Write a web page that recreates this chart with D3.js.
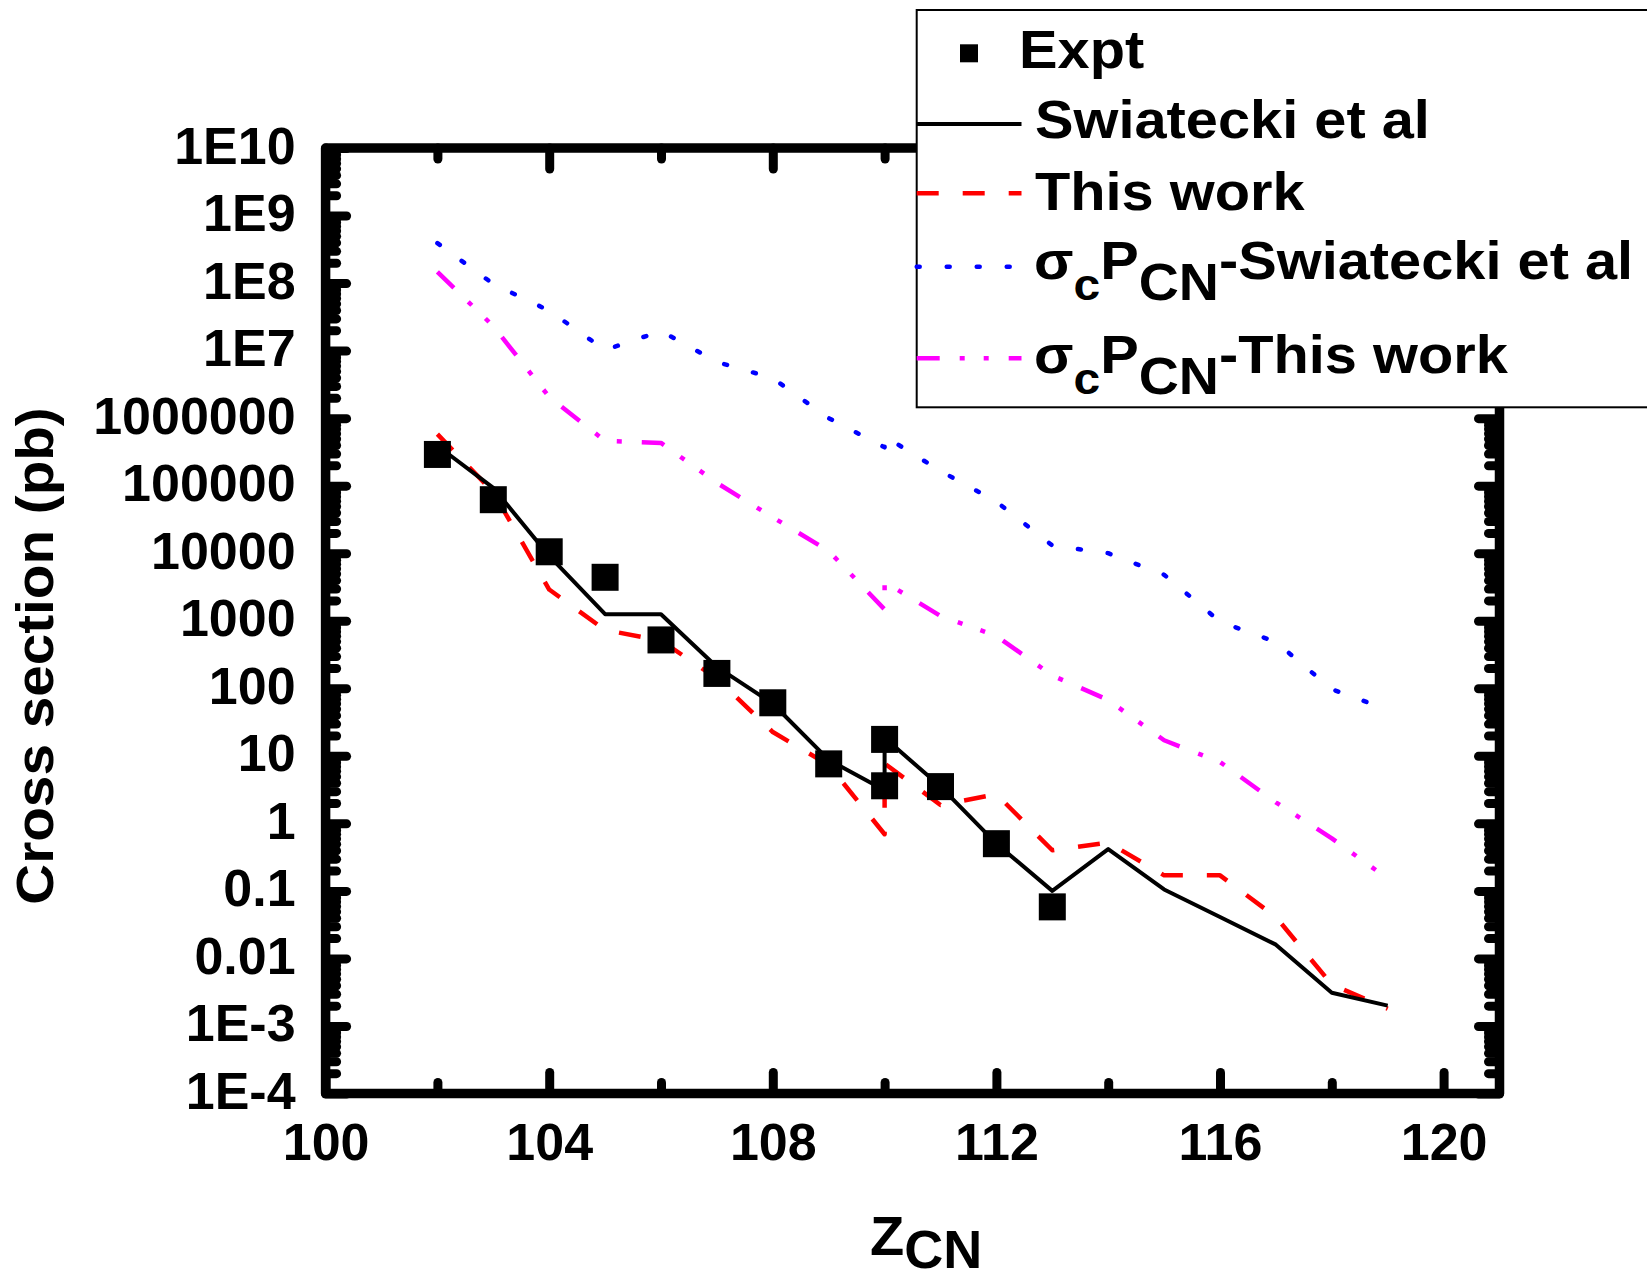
<!DOCTYPE html>
<html>
<head>
<meta charset="utf-8">
<script src="https://cdn.jsdelivr.net/npm/d3@7"></script>
<style>
  body { margin: 0; background: #fff; }
  svg { display: block; font-family: "Liberation Sans", Arial, sans-serif; font-weight: bold; }
</style>
</head>
<body>
<div id="chart"></div>
<script>
// Values (cross section in pb vs Z of compound nucleus)
const zExpt = [102, 103, 104, 105, 106, 107, 108, 109, 110, 110, 111, 112, 113];
const sigExpt = [2.9e5, 6.2e4, 1.05e4, 4.4e3, 520, 166, 61, 7.6, 17.5, 3.6, 3.5, 0.5, 0.058];

// model curves: two entries at Z=110 (two reactions)
const zCalc = [102, 103, 104, 105, 106, 107, 108, 109, 110, 110, 111, 112, 113, 114, 115, 116, 117, 118, 119];
const sigSwiatecki = [3.9e5, 9.3e4, 9.1e3, 1.25e3, 1.25e3, 207, 59, 8.7, 3.1, 18.5, 3.5, 0.5, 0.1, 0.415, 0.105, 0.041, 0.016, 0.0031, 0.002];
const sigThisWork = [5.8e5, 8.0e4, 2.9e3, 730, 510, 139, 22.5, 7.3, 0.69, 7.7, 1.87, 2.7, 0.4, 0.52, 0.17, 0.17, 0.041, 0.0041, 0.0018];
const capSwiatecki = [3.9e8, 9.7e7, 3.9e7, 1.02e7, 1.95e7, 6.8e6, 3.9e6, 1.0e6, 3.7e5, 5.4e5, 1.65e5, 5.8e4, 1.3e4, 1.0e4, 4.8e3, 970, 485, 97, 48];
const capThisWork = [1.47e8, 2.3e7, 2.06e6, 4.6e5, 4.3e5, 1.1e5, 3.4e4, 1.08e4, 1.47e3, 3.75e3, 1.18e3, 595, 155, 67, 17, 8.1, 2.04, 0.6, 0.152];

const xTickValues = [100, 104, 108, 112, 116, 120];
const xMinorValues = [102, 106, 110, 114, 118];
const yTickValues = [1e10, 1e9, 1e8, 1e7, 1e6, 1e5, 1e4, 1e3, 100, 10, 1, 0.1, 0.01, 1e-3, 1e-4];
const yTickLabels = ['1E10', '1E9', '1E8', '1E7', '1000000', '100000', '10000', '1000', '100', '10', '1', '0.1', '0.01', '1E-3', '1E-4'];

const width = 1647, height = 1280;

const svg = d3.select('#chart').append('svg')
  .attr('width', width)
  .attr('height', height);

const x = d3.scaleLinear().domain([100, 121]).range([325.6, 1499.5]);
const y = d3.scaleLog().domain([1e-4, 1e10]).range([1093.5, 148]);

const xLeft = x(100), xRight = x(121), yTop = y(1e10), yBottom = y(1e-4);

// minor ticks on the log axis: 2..9 in every decade
const yMinorValues = [];
for (let e = -4; e < 10; e++) {
  for (let k = 2; k <= 9; k++) yMinorValues.push(k * Math.pow(10, e));
}

function styleTicks(g) {
  g.select('.domain').remove();
  g.selectAll('.tick line')
    .attr('stroke', '#000')
    .attr('stroke-width', 9)
    .attr('stroke-linecap', 'round');
}

const MAJ = 21, MIN = 11;

// bottom axis
svg.append('g').attr('transform', `translate(0,${yBottom})`)
  .call(d3.axisBottom(x).tickValues(xMinorValues).tickSize(-MIN).tickFormat('')).call(styleTicks);
const gBottomMaj = svg.append('g').attr('transform', `translate(0,${yBottom})`);
gBottomMaj.call(d3.axisBottom(x).tickValues(xTickValues).tickSize(-MAJ).tickFormat(d3.format('d'))).call(styleTicks);
gBottomMaj.selectAll('.tick text')
  .attr('y', 66.5).attr('dy', 0)
  .attr('fill', '#000')
  .style('font-size', '52px');

// top axis
svg.append('g').attr('transform', `translate(0,${yTop})`)
  .call(d3.axisTop(x).tickValues(xMinorValues).tickSize(-MIN).tickFormat('')).call(styleTicks);
svg.append('g').attr('transform', `translate(0,${yTop})`)
  .call(d3.axisTop(x).tickValues(xTickValues).tickSize(-MAJ).tickFormat('')).call(styleTicks);

// left axis
svg.append('g').attr('transform', `translate(${xLeft},0)`)
  .call(d3.axisLeft(y).tickValues(yMinorValues).tickSize(-MIN).tickFormat('')).call(styleTicks);
const gLeft = svg.append('g').attr('transform', `translate(${xLeft},0)`);
gLeft.call(d3.axisLeft(y).tickValues(yTickValues).tickSize(-MAJ).tickFormat((d, i) => yTickLabels[i])).call(styleTicks);
gLeft.selectAll('.tick text')
  .attr('x', -30).attr('dy', 15)
  .attr('fill', '#000')
  .attr('text-anchor', 'end')
  .style('font-size', '52px');

// right axis
svg.append('g').attr('transform', `translate(${xRight},0)`)
  .call(d3.axisRight(y).tickValues(yMinorValues).tickSize(-MIN).tickFormat('')).call(styleTicks);
svg.append('g').attr('transform', `translate(${xRight},0)`)
  .call(d3.axisRight(y).tickValues(yTickValues).tickSize(-MAJ).tickFormat('')).call(styleTicks);

// frame
svg.append('rect')
  .attr('x', xLeft).attr('y', yTop)
  .attr('width', xRight - xLeft).attr('height', yBottom - yTop)
  .attr('fill', 'none')
  .attr('stroke', '#000')
  .attr('stroke-width', 9.5)
  .attr('stroke-linejoin', 'round');

// curves
const line = d3.line().x(d => x(d[0])).y(d => y(d[1]));
const series = [
  { vals: capSwiatecki, color: '#0000ff', w: 4.5, dash: '3,27', cap: 'round' },
  { vals: capThisWork, color: '#ff00ff', w: 4.5, dash: '23,20,5,19,5,20', cap: 'butt' },
  { vals: sigThisWork, color: '#ff0000', w: 4.5, dash: '22,24', cap: 'butt' },
  { vals: sigSwiatecki, color: '#000000', w: 4, dash: null, cap: 'butt' }
];
series.forEach(s => {
  svg.append('path')
    .datum(zCalc.map((z, i) => [z, s.vals[i]]))
    .attr('d', line)
    .attr('fill', 'none')
    .attr('stroke', s.color)
    .attr('stroke-width', s.w)
    .attr('stroke-dasharray', s.dash)
    .attr('stroke-linecap', s.cap)
    .attr('stroke-linejoin', 'round');
});

// experimental points
const sq = 27;
svg.append('g')
  .selectAll('rect')
  .data(zExpt.map((z, i) => [z, sigExpt[i]]))
  .join('rect')
  .attr('x', d => x(d[0]) - sq / 2)
  .attr('y', d => y(d[1]) - sq / 2)
  .attr('width', sq)
  .attr('height', sq)
  .attr('fill', '#000');

// axis titles
svg.append('text')
  .attr('transform', 'translate(53,656) rotate(-90) scale(1.09,1)')
  .attr('text-anchor', 'middle')
  .style('font-size', '52px')
  .text('Cross section (pb)');

const xt = svg.append('text')
  .attr('x', 870).attr('y', 1255)
  .style('font-size', '56px');
xt.append('tspan').text('Z');
xt.append('tspan').attr('dy', 13).style('font-size', '54px').text('CN');

// legend
const lg = svg.append('g');
lg.append('rect')
  .attr('x', 916.7).attr('y', 10)
  .attr('width', 760).attr('height', 397.3)
  .attr('fill', '#fff')
  .attr('stroke', '#000')
  .attr('stroke-width', 2);

lg.append('rect')
  .attr('x', 969 - 9).attr('y', 53.3 - 9)
  .attr('width', 18).attr('height', 18)
  .attr('fill', '#000');

const sampleX0 = 916.7, sampleX1 = 1021.5;
const legendLines = [
  { y: 124, s: series[3] },
  { y: 193.3, s: series[2] },
  { y: 266.7, s: series[0] },
  { y: 358.3, s: series[1] }
];
legendLines.forEach(l => {
  lg.append('line')
    .attr('x1', sampleX0).attr('x2', sampleX1)
    .attr('y1', l.y).attr('y2', l.y)
    .attr('stroke', l.s.color)
    .attr('stroke-width', l.s.w)
    .attr('stroke-dasharray', l.s.dash)
    .attr('stroke-linecap', l.s.cap);
});

function legendText(tx, ty, parts) {
  const t = lg.append('text')
    .attr('transform', `translate(${tx},${ty}) scale(1.09,1)`)
    .style('font-size', '53px');
  let shift = 0;
  parts.forEach(p => {
    const sp = t.append('tspan').text(p.t);
    const want = p.sub ? 21 : 0;
    if (want !== shift) { sp.attr('dy', want - shift); shift = want; }
    if (p.size) sp.style('font-size', p.size + 'px');
  });
}
legendText(1019, 68, [{ t: 'Expt' }]);
legendText(1035, 138, [{ t: 'Swiatecki et al' }]);
legendText(1035, 210, [{ t: 'This work' }]);
legendText(1034, 279, [{ t: 'σ' }, { t: 'c', sub: true, size: 44 }, { t: 'P' }, { t: 'CN', sub: true, size: 51 }, { t: '-Swiatecki et al' }]);
legendText(1034, 373, [{ t: 'σ' }, { t: 'c', sub: true, size: 44 }, { t: 'P' }, { t: 'CN', sub: true, size: 51 }, { t: '-This work' }]);
</script>
</body>
</html>
